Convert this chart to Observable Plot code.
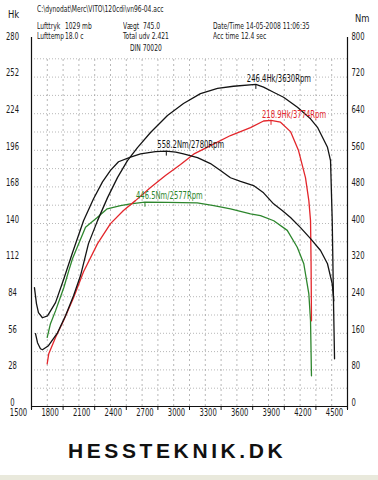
<!DOCTYPE html>
<html><head><meta charset="utf-8">
<script src="https://cdn.jsdelivr.net/npm/d3@7"></script>
<script src="https://cdn.jsdelivr.net/npm/@observablehq/plot@0.6"></script>
<style>
html,body{margin:0;padding:0;background:#fff;}
#wrap{position:relative;width:378px;height:480px;overflow:hidden;background:#fff;font-family:"Liberation Sans Narrow","DejaVu Sans Condensed","Arial Narrow",sans-serif;color:#1a1a1a;}
#chart{position:absolute;left:0;top:0;}
.t{position:absolute;font-size:9.5px;line-height:9px;white-space:pre;transform:scaleX(0.7);transform-origin:0 0;}
.ax{position:absolute;font-size:11px;line-height:12px;transform:scaleX(0.85);transform-origin:0 0;}
#foot{position:absolute;left:68px;top:440px;font:bold 21px/21px "Liberation Sans",Arial,sans-serif;letter-spacing:3.6px;color:#111;white-space:nowrap;}
#strip{position:absolute;left:0;right:0;bottom:0;height:5px;background:#e9e9dc;}
</style></head>
<body><div id="wrap">
<div id="chart"></div>
<div class="t" style="left:37px;top:4px">C:\dynodat\Merc\VITO\120cdi\vn96-04.acc</div>
<div class="ax" style="left:8px;top:9px">Hk</div>
<div class="ax" style="left:355px;top:13px">Nm</div>
<div class="t" style="left:37px;top:21px">Lufttryk</div>
<div class="t" style="left:65px;top:21px">1029 mb</div>
<div class="t" style="left:37px;top:30.5px">Lufttemp</div>
<div class="t" style="left:65px;top:30.5px">18.0 c</div>
<div class="t" style="left:123px;top:21px">Vægt</div>
<div class="t" style="left:143px;top:21px">745.0</div>
<div class="t" style="left:123px;top:30.5px">Total udv 2.421</div>
<div class="t" style="left:130px;top:42.5px">DIN 70020</div>
<div class="t" style="left:213px;top:21px">Date/Time</div>
<div class="t" style="left:246px;top:21px">14-05-2008 11:06:35</div>
<div class="t" style="left:213px;top:30.5px">Acc time</div>
<div class="t" style="left:241px;top:30.5px">12.4 sec</div>
<div id="foot">HESSTEKNIK.DK</div>
<div id="strip"></div>
</div>
<script>
// Black run: power (Hk) and torque (Nm)
const bpRpm = [1538,1557,1585,1604,1661,1747,1823,1899,1965,2041,2127,2222,2316,2411,2506,2630,2791,2943,3104,3266,3418,3630,3703,3798,3893,4025,4149,4215,4310,4339,4355,4367,4377];
const bpHk  = [55.7,48.8,44.2,43.4,46.5,56.4,69.4,84.7,100.0,124.6,142.2,159.8,175.1,188.1,198.1,209.6,222.6,231.8,239.4,243.3,245.0,246.4,244.3,240.4,236.6,228.9,220.1,213.6,198.3,188.1,142.2,80.9,36.5];
const btRpm = [1528,1547,1566,1604,1652,1728,1804,1889,1994,2089,2174,2250,2326,2440,2535,2677,2780,2870,2943,3076,3199,3294,3389,3484,3608,3703,3798,3883,3959,4054,4149,4244,4310,4355,4370];
const btNm  = [260,225,205,194,198,227,277,336,406,454,491,516,535,545,552,557,558.2,556,552,544,531,516,500,492,483,467,443,428,413,391,367,341,312,268,231];
// Red run: power (Hk); green: torque (Nm)
const rpRpm = [1649,1664,1728,1804,1899,1994,2127,2250,2373,2487,2630,2772,2915,3048,3199,3389,3579,3703,3774,3864,3959,4035,4101,4133,4149,4154,4158];
const rpHk  = [32.7,40.4,52.8,65.6,83.2,103.1,124.6,139.9,149.9,157.5,167.5,176.7,185.1,193.5,199.6,207.3,213.4,218.4,218.9,217.5,210.3,195.8,175.1,157.5,142.2,111.6,65.6];
const gtRpm = [1649,1680,1728,1807,1854,1889,1934,2013,2124,2219,2345,2440,2577,2788,3073,3231,3389,3579,3674,3800,3928,4023,4085,4133,4149,4158];
const gtNm  = [151,181,209,260,297,323,348,392,413,432,439,443,446.5,446,445,439,432,421,417,406,385,348,312,246,188,67];
// Peak annotations
const peakSeries = ["bp","bt","rp","gt"];
const peakRpm = [3630,2780,3774,2577];
const peakVal = [246.4,558.2,218.9,446.5];
const peakUnit = ["Hk","Nm","Hk","Nm"];
// Axis ticks
const xTicks = [1500,1800,2100,2400,2700,3000,3300,3600,3900,4200,4500];
const hkTicks = [0,28,56,84,112,140,168,196,224,252,280];
const nmTicks = [0,80,160,240,320,400,480,560,640,720,800];

const k = 280/800; // Nm -> Hk axis units
const colors = {bp:"#141414", bt:"#141414", rp:"#e3262b", gt:"#2d862d"};
const toRows = (xs, ys, f=1) => xs.map((x,i)=>({rpm:x, v:ys[i]*f}));
const bp = toRows(bpRpm,bpHk), bt = toRows(btRpm,btNm,k), rp = toRows(rpRpm,rpHk), gt = toRows(gtRpm,gtNm,k);
const peaks = peakSeries.map((s,i)=>({s, rpm:peakRpm[i], v: peakUnit[i]==="Nm" ? peakVal[i]*k : peakVal[i], label:`${peakVal[i]}${peakUnit[i]}/${peakRpm[i]}Rpm`}));
const hGrid = d3.range(14, 267, 14);
const vGrid = d3.range(1650, 4500, 150);

const chart = Plot.plot({
  width:378, height:430, marginLeft:31, marginRight:31, marginTop:40, marginBottom:24,
  style:{fontFamily:'"Liberation Sans Narrow","DejaVu Sans Condensed",sans-serif', fontSize:"10px", background:"transparent", color:"#1a1a1a"},
  x:{domain:[1500,4500], axis:null},
  y:{domain:[0,280], axis:null},
  marks:[
    Plot.ruleY(hGrid, {stroke:"#9a9a9a", strokeDasharray:"1,2", strokeWidth:0.7}),
    Plot.ruleX(vGrid, {y1:0, y2:266, stroke:"#9a9a9a", strokeDasharray:"2,3", strokeWidth:0.7}),
    Plot.line(gt, {x:"rpm", y:"v", stroke:colors.gt, strokeWidth:1.3}),
    Plot.line(rp, {x:"rpm", y:"v", stroke:colors.rp, strokeWidth:1.3}),
    Plot.line(bt, {x:"rpm", y:"v", stroke:colors.bt, strokeWidth:1.3}),
    Plot.line(bp, {x:"rpm", y:"v", stroke:colors.bp, strokeWidth:1.3}),
    Plot.ruleY([0], {stroke:"#111", strokeWidth:1.2}),
    Plot.ruleX([1500,4500], {insetTop:-3, insetBottom:-3, stroke:"#111", strokeWidth:1.2}),
    Plot.ruleX(xTicks, {y1:0, y2:0, insetBottom:-4, stroke:"#111"}),
    Plot.text(xTicks, {x:d=>d, frameAnchor:"bottom", dy:9, dx:-13, text:d=>String(d), fill:"#1a1a1a"}),
    Plot.text(hkTicks, {y:d=>d, frameAnchor:"left", dx:-19, dy:-4, textAnchor:"middle", text:d=>String(d), fill:"#1a1a1a"}),
    Plot.text(nmTicks, {y:d=>d*k, frameAnchor:"right", dx:4, dy:-4, textAnchor:"start", text:d=>String(d), fill:"#1a1a1a"}),
    Plot.ruleX(peaks, {x:"rpm", y1:"v", y2:"v", insetTop:1, insetBottom:-5, stroke:d=>colors[d.s]}),
    Plot.text(peaks, {x:"rpm", y:"v", text:"label", textAnchor:"start", dx:-9, dy:-6, fill:d=>colors[d.s]})
  ]
});
// condense the tick and peak labels horizontally, like the dyno printout's narrow font
chart.querySelectorAll("text").forEach(t => {
  const tr = t.getAttribute("transform");
  if (tr) t.setAttribute("transform", tr + " scale(0.76,1)");
  else {
    const x = +t.getAttribute("x") || 0, y = +t.getAttribute("y") || 0;
    t.setAttribute("transform", `translate(${x},${y}) scale(0.76,1) translate(${-x},${-y})`);
  }
});
document.getElementById("chart").appendChild(chart);
</script>
</body></html>
